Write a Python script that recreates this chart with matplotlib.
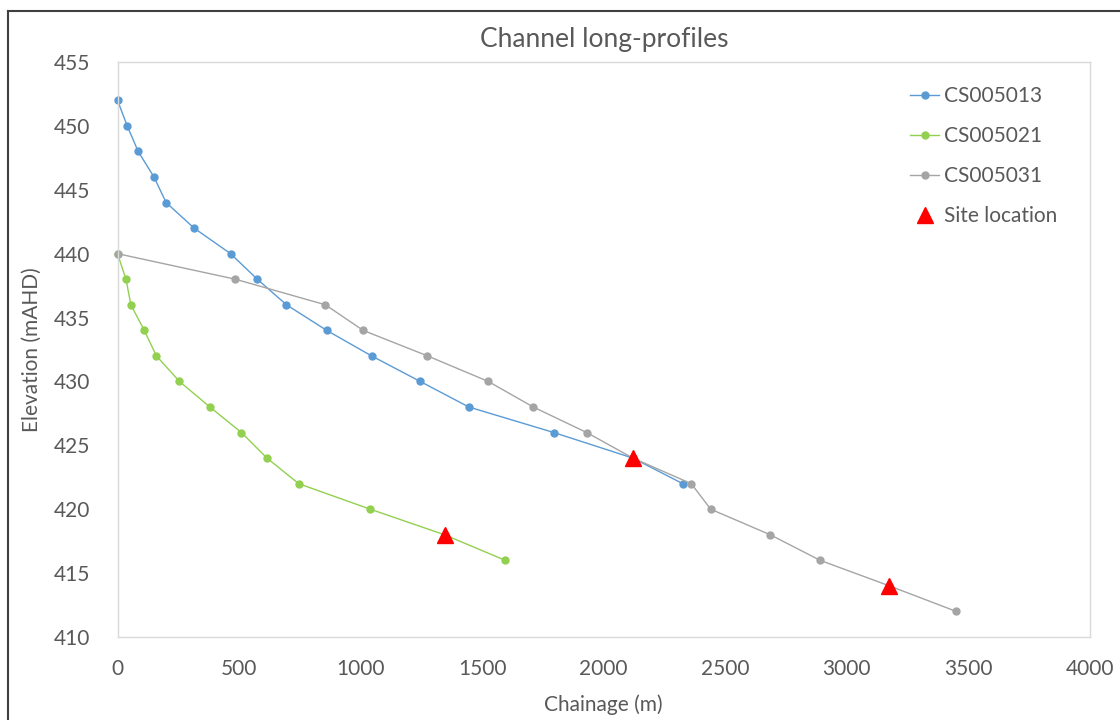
import numpy as np
import matplotlib
matplotlib.use("Agg")
import matplotlib.pyplot as plt
from matplotlib.lines import Line2D

plt.rcParams["font.family"] = ["Lato", "DejaVu Sans"]

# chainage (m) and bed elevation (mAHD) along each channel
cs5013_x = [0, 40, 85, 150, 200, 315, 465, 575, 695, 860, 1045, 1245, 1445, 1795, 2120, 2325]
cs5013_z = [452, 450, 448, 446, 444, 442, 440, 438, 436, 434, 432, 430, 428, 426, 424, 422]

cs5021_x = [0, 35, 55, 110, 160, 255, 380, 510, 615, 745, 1040, 1345, 1595]
cs5021_z = [440, 438, 436, 434, 432, 430, 428, 426, 424, 422, 420, 418, 416]

cs5031_x = [0, 485, 855, 1010, 1275, 1525, 1710, 1930, 2120, 2360, 2440, 2685, 2890, 3175, 3450]
cs5031_z = [440, 438, 436, 434, 432, 430, 428, 426, 424, 422, 420, 418, 416, 414, 412]

site_x = [1345, 2120, 3175]
site_z = [418, 424, 414]

txt = '#595959'
frame = '#d9d9d9'

fig = plt.figure(figsize=(11.2, 7.2), dpi=100)
ax = fig.add_axes([117.5/1120, 1-637/720, (1090-117.5)/1120, (637-62)/720])

ax.plot(cs5013_x, cs5013_z, color='#5b9bd5', lw=1.0, marker='o', ms=5, label='CS005013', clip_on=False)
ax.plot(cs5021_x, cs5021_z, color='#92d050', lw=1.0, marker='o', ms=5, label='CS005021', clip_on=False)
ax.plot(cs5031_x, cs5031_z, color='#a5a5a5', lw=1.0, marker='o', ms=5, label='CS005031', clip_on=False)
ax.plot(site_x, site_z, linestyle='none', color='#ff0000', marker='^', ms=12, label='Site location')

ax.set_xlim(0, 4000)
ax.set_ylim(410, 455)
ax.set_xticks(np.arange(0, 4001, 500))
ax.set_yticks(np.arange(410, 456, 5))
ax.tick_params(length=0, labelsize=15, colors=txt)
ax.tick_params(axis='x', pad=16)
ax.tick_params(axis='y', pad=20)
for s in ax.spines.values():
    s.set_color(frame)
    s.set_linewidth(1.0)

ax.set_title("Channel long-profiles", fontsize=19, color=txt, pad=11)
ax.set_xlabel("Chainage (m)", fontsize=15, color=txt, labelpad=11)
ax.set_ylabel("Elevation (mAHD)", fontsize=15, color=txt, labelpad=8)

leg = ax.legend(loc='upper right', bbox_to_anchor=(0.986, 0.99), frameon=False,
                fontsize=15, labelspacing=0.95, handlelength=1.4, handletextpad=0.25)
for t in leg.get_texts():
    t.set_color(txt)

# dark outline round the chart
fig.add_artist(Line2D([8/1120, 8/1120], [0, 1-11/720], transform=fig.transFigure, color='#404040', lw=1.5))
fig.add_artist(Line2D([8/1120, 1], [1-11/720, 1-11/720], transform=fig.transFigure, color='#404040', lw=1.5))

fig.savefig("out.png", dpi=100)
